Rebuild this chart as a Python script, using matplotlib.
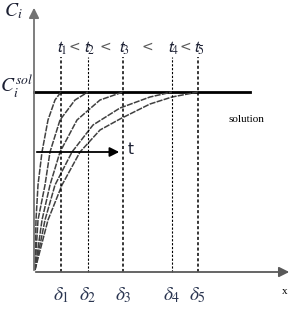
import matplotlib.pyplot as plt

plt.rcParams['mathtext.fontset'] = 'stix'
plt.rcParams['font.family'] = ['Liberation Serif', 'DejaVu Serif']

# concentration at the solution side
c_sol = 1.80
# penetration depths delta_1..delta_5
deltas = [0.27, 0.54, 0.89, 1.38, 1.64]
delta_labels = [r'$\delta_1$', r'$\delta_2$', r'$\delta_3$', r'$\delta_4$', r'$\delta_5$']
time_labels = [r'$\mathsf{t}_1$', r'$\mathsf{t}_2$', r'$\mathsf{t}_3$', r'$\mathsf{t}_4$', r'$\mathsf{t}_5$']

# profiles C_i(x) at the five times
prof1_x = [0.01, 0.02, 0.04, 0.08, 0.14, 0.21, 0.27]
prof1_c = [0.02, 0.52, 0.87, 1.20, 1.52, 1.72, 1.80]
prof2_x = [0.01, 0.04, 0.11, 0.16, 0.26, 0.41, 0.54]
prof2_c = [0.02, 0.52, 0.87, 1.20, 1.52, 1.72, 1.80]
prof3_x = [0.01, 0.08, 0.16, 0.26, 0.43, 0.66, 0.89]
prof3_c = [0.02, 0.52, 0.87, 1.20, 1.52, 1.72, 1.80]
prof4_x = [0.01, 0.11, 0.21, 0.38, 0.59, 0.86, 1.16, 1.38]
prof4_c = [0.02, 0.52, 0.87, 1.20, 1.47, 1.64, 1.75, 1.80]
prof5_x = [0.01, 0.14, 0.28, 0.46, 0.66, 0.86, 1.16, 1.38, 1.64]
prof5_c = [0.02, 0.52, 0.87, 1.20, 1.42, 1.53, 1.68, 1.75, 1.80]

fig = plt.figure(figsize=(2.95, 3.13), dpi=100)
ax = fig.add_axes([0, 0, 1, 1])
ax.set_xlim(-0.34, 2.61)
ax.set_ylim(-0.41, 2.72)
ax.axis('off')

# axes with arrows
ax.annotate('', xy=(0, 2.67), xytext=(0, -0.01),
            arrowprops=dict(arrowstyle='-|>', color='0.45', lw=1.3, mutation_scale=15))
ax.annotate('', xy=(2.58, 0), xytext=(-0.01, 0),
            arrowprops=dict(arrowstyle='-|>', color='0.35', lw=1.3, mutation_scale=15))
ax.text(-0.21, 2.61, r'$C_i$', fontsize=14, ha='center', va='center', color='#1c2033')
ax.text(-0.17, 1.86, r'$C_i^{sol}$', fontsize=14, ha='center', va='center', color='#1c2033')
ax.text(2.51, -0.20, 'x', fontsize=8, ha='center', va='center')

# solution level
ax.plot([0, 2.16], [c_sol, c_sol], color='black', lw=2)
ax.text(2.12, 1.52, 'solution', fontsize=8, ha='center', va='center')

# concentration profiles
for px, pc in [(prof1_x, prof1_c), (prof2_x, prof2_c), (prof3_x, prof3_c),
               (prof4_x, prof4_c), (prof5_x, prof5_c)]:
    ax.plot(px, pc, color='0.25', lw=1.1, linestyle=(0, (4, 0.8)))

# penetration depth markers
for i, d in enumerate(deltas):
    lw = 0.8 if i in (1, 3) else 1.1
    ax.plot([d, d], [0, 2.15], color='black', lw=lw, linestyle=(0, (2, 1.5)))
    ax.text(d, -0.23, delta_labels[i], fontsize=14, ha='center', va='center', color='#2a3550')
    ax.text(d + 0.01, 2.24, time_labels[i], fontsize=12, ha='center', va='center', color='#1c2033')

# "<" signs between time labels
for i in range(len(deltas) - 1):
    mid = (deltas[i] + deltas[i + 1]) / 2
    ax.text(mid, 2.25, '<', fontsize=10, ha='center', va='center', color='0.35',
            family='DejaVu Sans')

# time direction arrow
ax.annotate('', xy=(0.88, 1.20), xytext=(0, 1.20),
            arrowprops=dict(arrowstyle='-|>', color='black', lw=1.3, mutation_scale=14))
ax.text(0.97, 1.22, 't', fontsize=11, ha='center', va='center', color='#1c2033',
        family='DejaVu Sans')

fig.savefig('out.png', dpi=100)
